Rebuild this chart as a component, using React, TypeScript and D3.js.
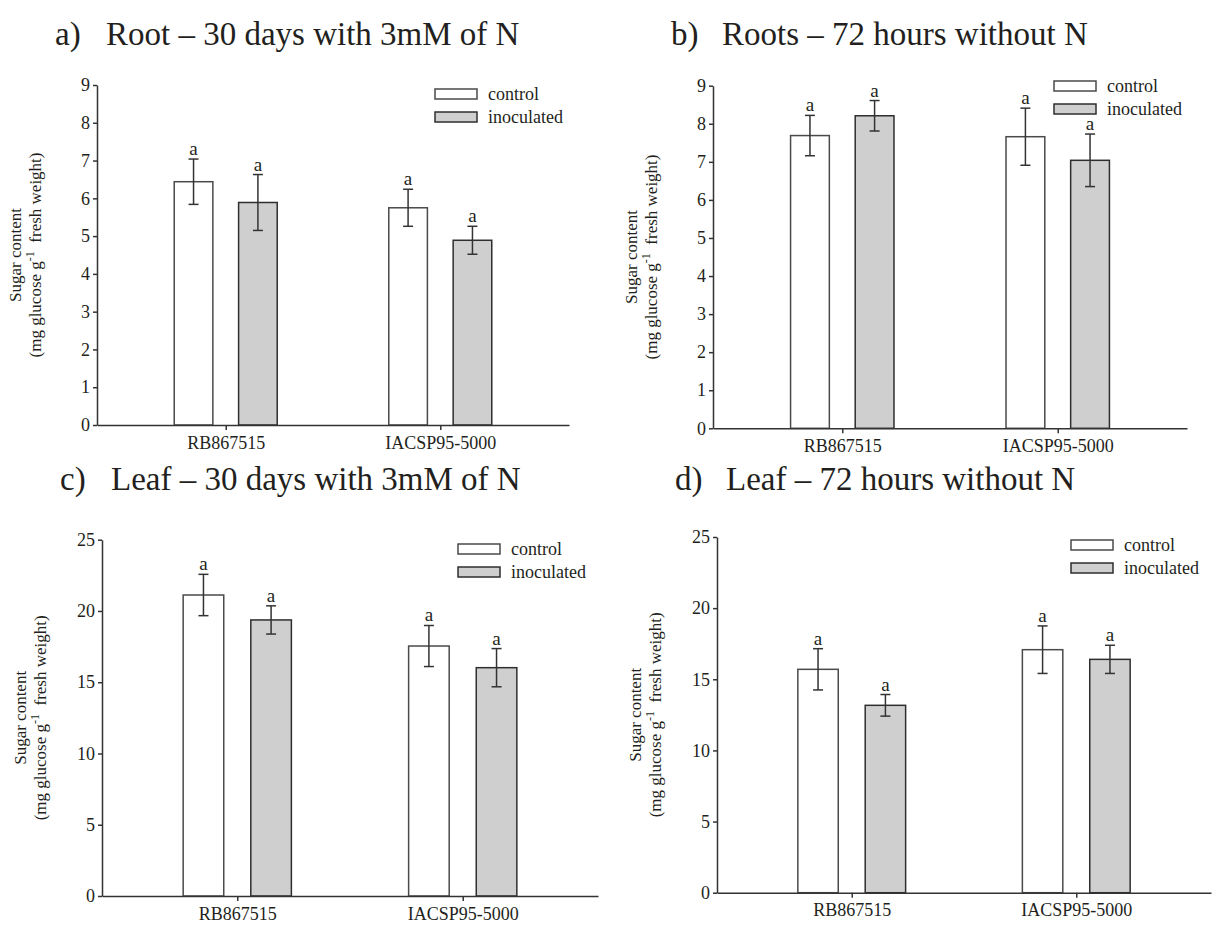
import React, { useRef, useEffect } from "react";
import * as d3 from "d3";

const categories = ["RB867515", "IACSP95-5000"];
const series = ["control", "inoculated"];

// a) Root - 30 days with 3mM of N
const rootN_control = [6.44, 5.75];
const rootN_controlSE = [0.6, 0.49];
const rootN_inoculated = [5.89, 4.89];
const rootN_inoculatedSE = [0.74, 0.37];

// b) Roots - 72 hours without N
const root72_control = [7.69, 7.66];
const root72_controlSE = [0.53, 0.75];
const root72_inoculated = [8.21, 7.04];
const root72_inoculatedSE = [0.4, 0.69];

// c) Leaf - 30 days with 3mM of N
const leafN_control = [21.12, 17.54];
const leafN_controlSE = [1.45, 1.44];
const leafN_inoculated = [19.37, 16.02];
const leafN_inoculatedSE = [0.99, 1.34];

// d) Leaf - 72 hours without N
const leaf72_control = [15.7, 17.08];
const leaf72_controlSE = [1.45, 1.67];
const leaf72_inoculated = [13.17, 16.4];
const leaf72_inoculatedSE = [0.76, 0.99];

const rootTicks = [0, 1, 2, 3, 4, 5, 6, 7, 8, 9];
const leafTicks = [0, 5, 10, 15, 20, 25];
const letters = ["a", "a"]; // significance letters per bar

const FONT = "'Liberation Serif', 'Times New Roman', Times, serif";
const INK = "#231f20";

const panels = [
  { tag: "a)", title: "Root \u2013 30 days with 3mM of N", left: 97, right: 569, top: 85, bottom: 425, yMax: 9, ticks: rootTicks,
    control: rootN_control, controlSE: rootN_controlSE, inoc: rootN_inoculated, inocSE: rootN_inoculatedSE, legendX: 435, legendY: 89, titleY: 45 },
  { tag: "b)", title: "Roots \u2013 72 hours without N", left: 713, right: 1187, top: 85.7, bottom: 428.3, yMax: 9, ticks: rootTicks,
    control: root72_control, controlSE: root72_controlSE, inoc: root72_inoculated, inocSE: root72_inoculatedSE, legendX: 1054, legendY: 81, titleY: 45 },
  { tag: "c)", title: "Leaf \u2013 30 days with 3mM of N", left: 102, right: 598, top: 539.7, bottom: 896, yMax: 25, ticks: leafTicks,
    control: leafN_control, controlSE: leafN_controlSE, inoc: leafN_inoculated, inocSE: leafN_inoculatedSE, legendX: 458, legendY: 544, titleY: 490 },
  { tag: "d)", title: "Leaf \u2013 72 hours without N", left: 717, right: 1211, top: 537, bottom: 892.7, yMax: 25, ticks: leafTicks,
    control: leaf72_control, controlSE: leaf72_controlSE, inoc: leaf72_inoculated, inocSE: leaf72_inoculatedSE, legendX: 1071, legendY: 540, titleY: 490 },
];

const App = () => {
  const svgRef = useRef(null);

  useEffect(() => {
    const svg = d3.select(svgRef.current);
    svg.selectAll("*").remove();

    panels.forEach((p) => {
      const g = svg.append("g").attr("font-family", FONT).attr("fill", INK);

      const y = d3.scaleLinear().domain([0, p.yMax]).range([p.bottom, p.top]);
      const x = d3.scalePoint().domain(categories).range([p.left, p.right]).padding(0.6);
      const step = x.step();
      const inner = d3.scaleBand().domain(series).range([-0.24 * step, 0.24 * step]).paddingInner(0.4);

      // title
      g.append("text").attr("x", p.left - 42).attr("y", p.titleY).attr("font-size", 33).text(p.tag);
      g.append("text").attr("x", p.left + 9).attr("y", p.titleY).attr("font-size", 33).text(p.title);

      // y axis label
      const cy = (p.top + p.bottom) / 2;
      g.append("text")
        .attr("transform", `translate(${p.left - 76},${cy}) rotate(-90)`)
        .attr("text-anchor", "middle").attr("font-size", 17)
        .text("Sugar content");
      const l2 = g.append("text")
        .attr("transform", `translate(${p.left - 56},${cy}) rotate(-90)`)
        .attr("text-anchor", "middle").attr("font-size", 17);
      l2.append("tspan").text("(mg glucose g");
      l2.append("tspan").attr("dy", -7).attr("font-size", 12).text("-1");
      l2.append("tspan").attr("dy", 7).text("\u00a0 fresh weight)");

      // bars
      const rows = categories.map((c, i) => [
        { cat: c, s: "control", v: p.control[i], se: p.controlSE[i] },
        { cat: c, s: "inoculated", v: p.inoc[i], se: p.inocSE[i] },
      ]).flat();

      const bars = g.append("g");
      bars.selectAll("rect").data(rows).enter().append("rect")
        .attr("x", (d) => x(d.cat) + inner(d.s))
        .attr("y", (d) => y(d.v))
        .attr("width", inner.bandwidth())
        .attr("height", (d) => y(0) - y(d.v))
        .attr("fill", (d) => (d.s === "control" ? "#ffffff" : "#cfcfcf"))
        .attr("stroke", (d) => (d.s === "control" ? "#4a4a4a" : "#2e2e2e"))
        .attr("stroke-width", 1.5);

      // error bars
      const err = g.append("g").attr("stroke", "#333").attr("stroke-width", 1.5).attr("fill", "none");
      rows.forEach((d) => {
        const cx = x(d.cat) + inner(d.s) + inner.bandwidth() / 2;
        const y1 = y(d.v + d.se);
        const y2 = y(d.v - d.se);
        err.append("line").attr("x1", cx).attr("x2", cx).attr("y1", y1).attr("y2", y2);
        err.append("line").attr("x1", cx - 5).attr("x2", cx + 5).attr("y1", y1).attr("y2", y1);
        err.append("line").attr("x1", cx - 5).attr("x2", cx + 5).attr("y1", y2).attr("y2", y2);
        g.append("text").attr("x", cx).attr("y", y1 - 4).attr("text-anchor", "middle")
          .attr("font-size", 19).text(letters[0]);
      });

      // axes
      const yAxis = g.append("g").attr("transform", `translate(${p.left},0)`)
        .call(d3.axisLeft(y).tickValues(p.ticks).tickSize(4).tickSizeOuter(0).tickPadding(3));
      const xAxis = g.append("g").attr("transform", `translate(0,${p.bottom})`)
        .call(d3.axisBottom(x).tickSize(5).tickSizeOuter(0).tickPadding(6));
      [yAxis, xAxis].forEach((a) => {
        a.attr("font-family", FONT).attr("font-size", 18);
        a.selectAll("path, line").attr("stroke", "#333").attr("stroke-width", 1.5);
        a.selectAll("text").attr("fill", INK);
      });

      // legend
      const lg = g.append("g").attr("transform", `translate(${p.legendX},${p.legendY})`);
      series.forEach((s, i) => {
        lg.append("rect").attr("x", 0).attr("y", i * 23).attr("width", 42).attr("height", 10)
          .attr("fill", s === "control" ? "#ffffff" : "#cfcfcf")
          .attr("stroke", s === "control" ? "#4a4a4a" : "#2e2e2e").attr("stroke-width", 1.5);
        lg.append("text").attr("x", 53).attr("y", i * 23 + 11).attr("font-size", 18).text(s);
      });
    });
  }, []);

  return (
    <svg
      ref={svgRef}
      width={1218}
      height={925}
      style={{ position: "absolute", left: 0, top: 0, background: "#fff" }}
    />
  );
};

export default App;
